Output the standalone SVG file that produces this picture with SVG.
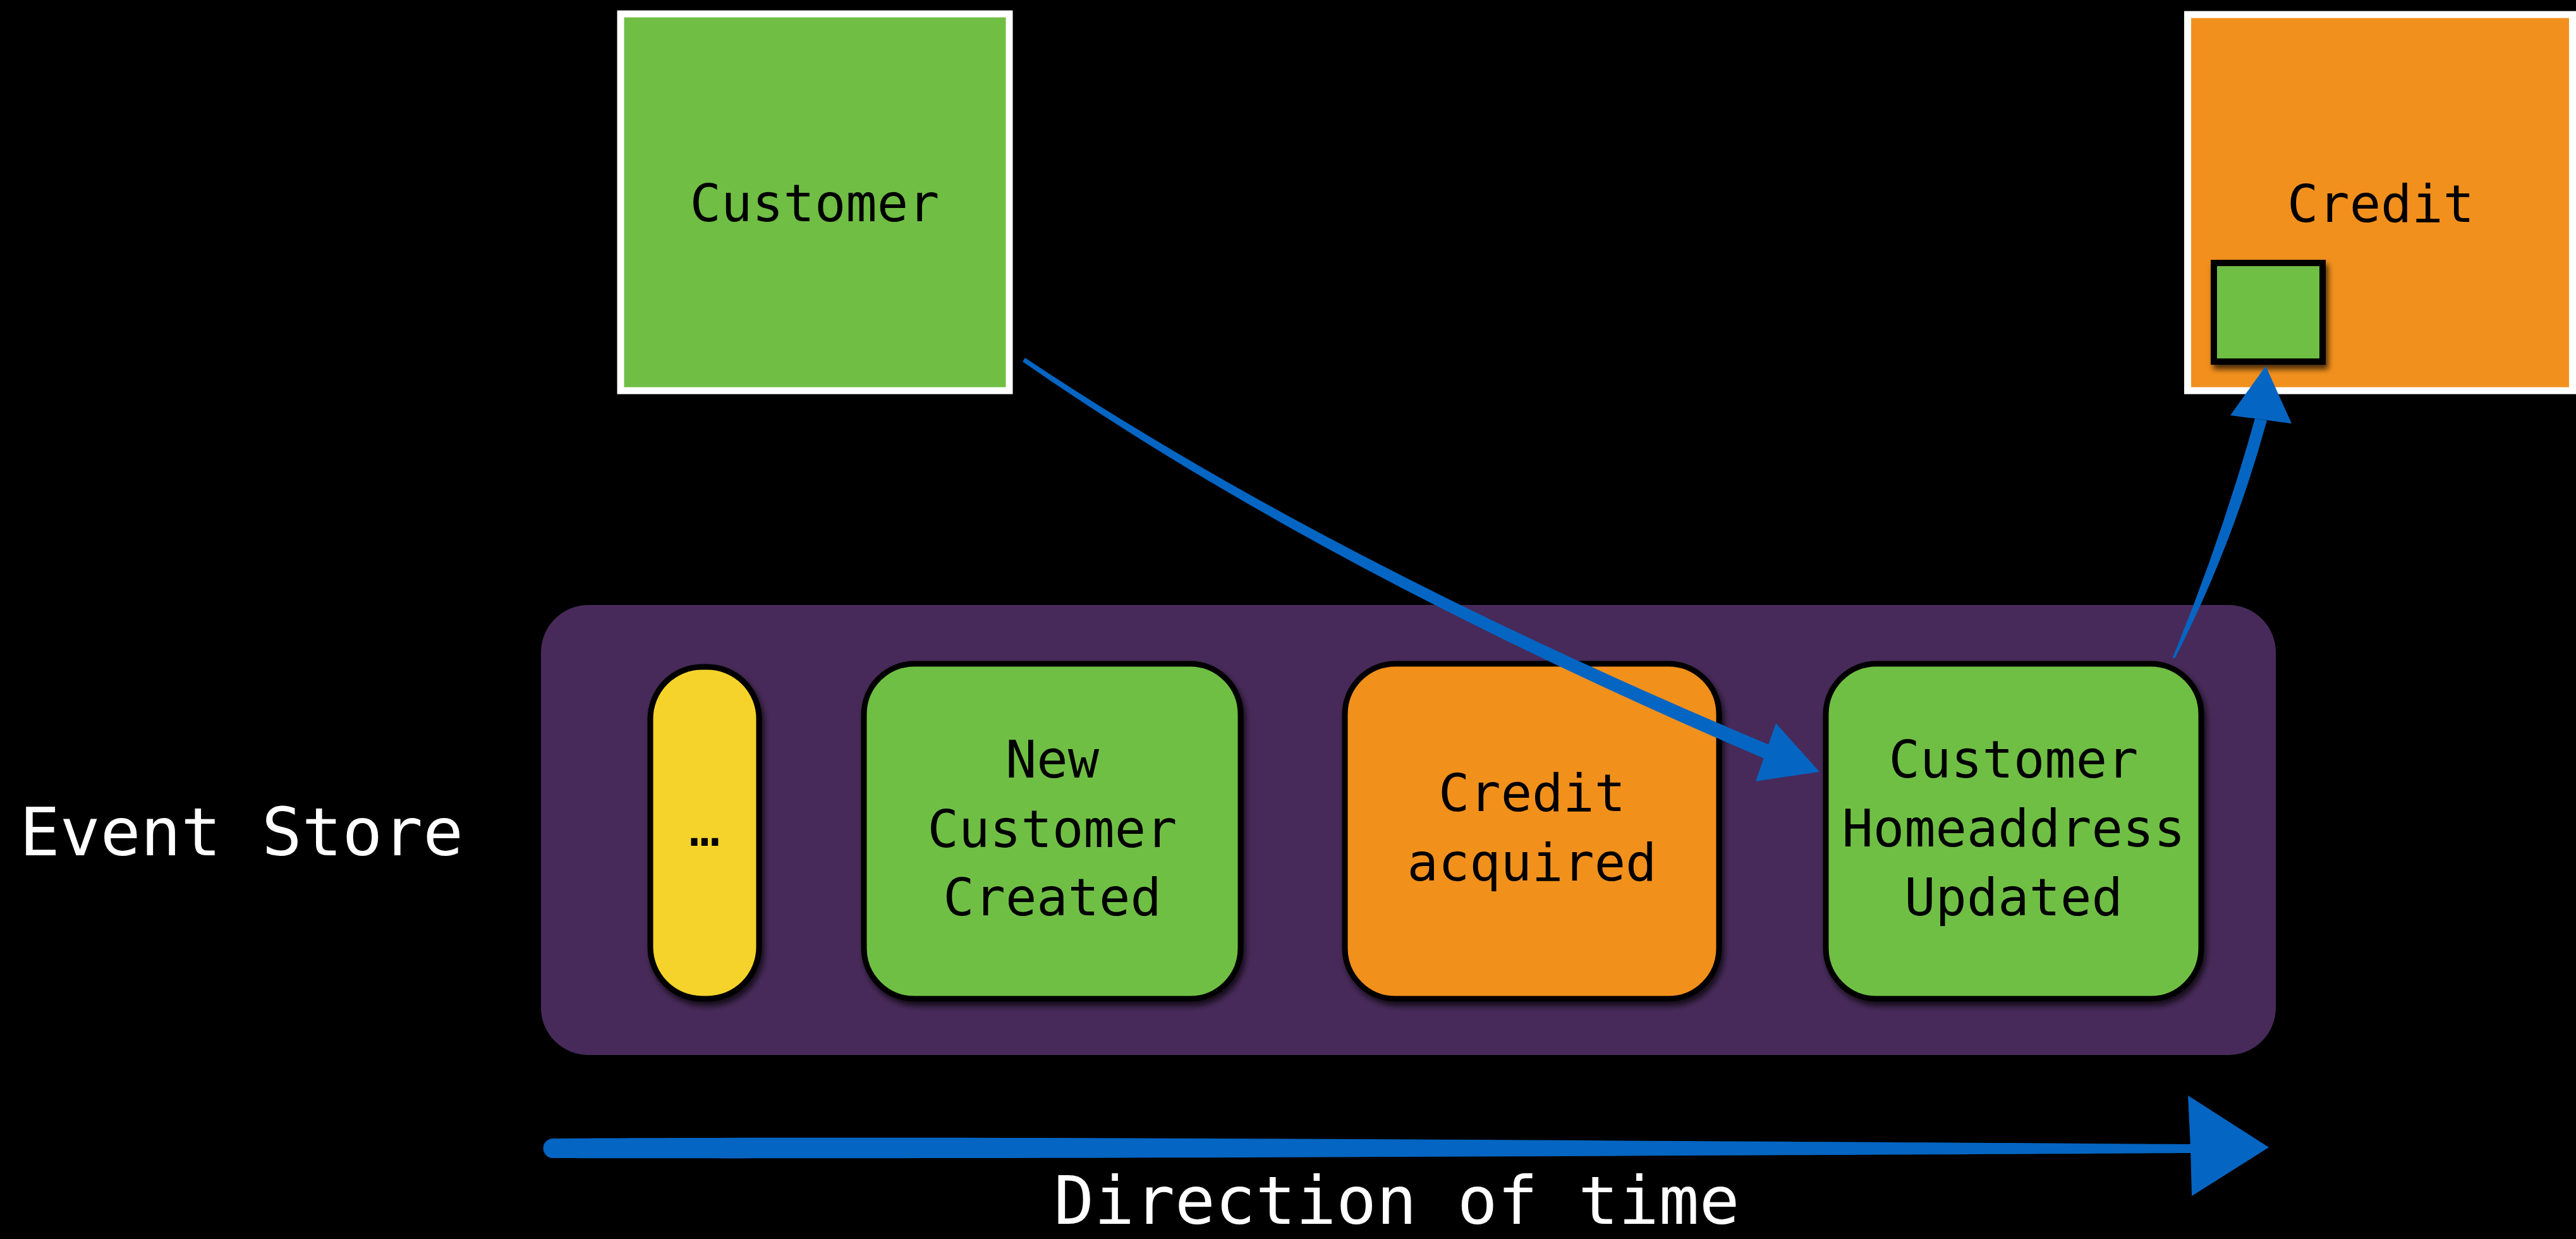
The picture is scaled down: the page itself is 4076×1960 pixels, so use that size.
<svg xmlns="http://www.w3.org/2000/svg" width="4076" height="1960" viewBox="0 0 4076 1960">
<defs>
<style>
.mono{font-family:"DejaVu Sans Mono","Liberation Mono",monospace;}
.lbl{font-size:82px;fill:#000;text-anchor:middle;}
.big{font-size:106px;fill:#fff;text-anchor:middle;}
.agg{stroke:#fff;stroke-width:11;}
.evt{stroke:#000;stroke-width:9;}
.green{fill:#70BF44;}
.orange{fill:#F2901D;}
.yellow{fill:#F5D329;}
.blue{fill:#0565C2;}
</style>
<filter id="shadow" x="-10%" y="-10%" width="130%" height="130%">
<feDropShadow dx="4" dy="7" stdDeviation="5" flood-color="#000" flood-opacity="0.7"/>
</filter>
</defs>
<rect x="0" y="0" width="4076" height="1960" fill="#000"/>

<g id="customer">
<rect class="agg green" x="982" y="22" width="615" height="596"/>
<text class="mono lbl" x="1289" y="350">Customer</text>
</g>

<g id="credit">
<rect class="agg orange" x="3461.5" y="23" width="609" height="595"/>
<text class="mono lbl" x="3767" y="351">Credit</text>
<rect class="green" x="3503" y="416" width="172" height="156" stroke="#000" stroke-width="10" filter="url(#shadow)"/>
</g>

<g id="event-store">
<rect x="856" y="957" width="2745" height="712" rx="75" fill="#472A59"/>
<text class="mono big" x="382" y="1353">Event Store</text>
</g>

<g id="evt-more">
<rect class="evt yellow" x="1029" y="1055" width="172" height="525" rx="82" filter="url(#shadow)"/>
<text class="mono lbl" x="1115" y="1338">…</text>
</g>

<g id="evt-new-customer">
<rect class="evt green" x="1367" y="1050" width="596" height="530" rx="80" filter="url(#shadow)"/>
<text class="mono lbl" x="1665" y="1230">New</text>
<text class="mono lbl" x="1665" y="1340">Customer</text>
<text class="mono lbl" x="1665" y="1448">Created</text>
</g>

<g id="evt-credit-acquired">
<rect class="evt orange" x="2128" y="1050" width="592" height="530" rx="80" filter="url(#shadow)"/>
<text class="mono lbl" x="2424" y="1283">Credit</text>
<text class="mono lbl" x="2424" y="1393">acquired</text>
</g>

<g id="evt-homeaddress">
<rect class="evt green" x="2889" y="1050" width="594" height="530" rx="80" filter="url(#shadow)"/>
<text class="mono lbl" x="3186" y="1230">Customer</text>
<text class="mono lbl" x="3186" y="1339">Homeaddress</text>
<text class="mono lbl" x="3186" y="1448">Updated</text>
</g>

<g id="connectors">
<!-- Customer to Homeaddress Updated -->
<path class="blue" d="M1622,566 Q2098,884 2806,1181 L2794,1201 Q2090,900 1618,572 Z"/>
<polygon class="blue" points="2879,1221 2810,1144 2778,1236"/>
<!-- Homeaddress Updated to Credit -->
<path class="blue" d="M3437,1042 Q3513,858 3568,662 L3587,665 Q3533,862 3442,1040 Z"/>
<polygon class="blue" points="3585,579 3529,657 3626,670"/>
</g>

<g id="time-axis">
<path class="blue" d="M875,1801 C1500,1796 2800,1806 3470,1810 L3470,1824 C2800,1828 1500,1834 875,1832 A15.5,15.5 0 0 1 875,1801 Z"/>
<polygon class="blue" points="3462,1733 3590,1815 3468,1892 3466,1815"/>
<text class="mono big" x="2210" y="1936">Direction of time</text>
</g>
</svg>
